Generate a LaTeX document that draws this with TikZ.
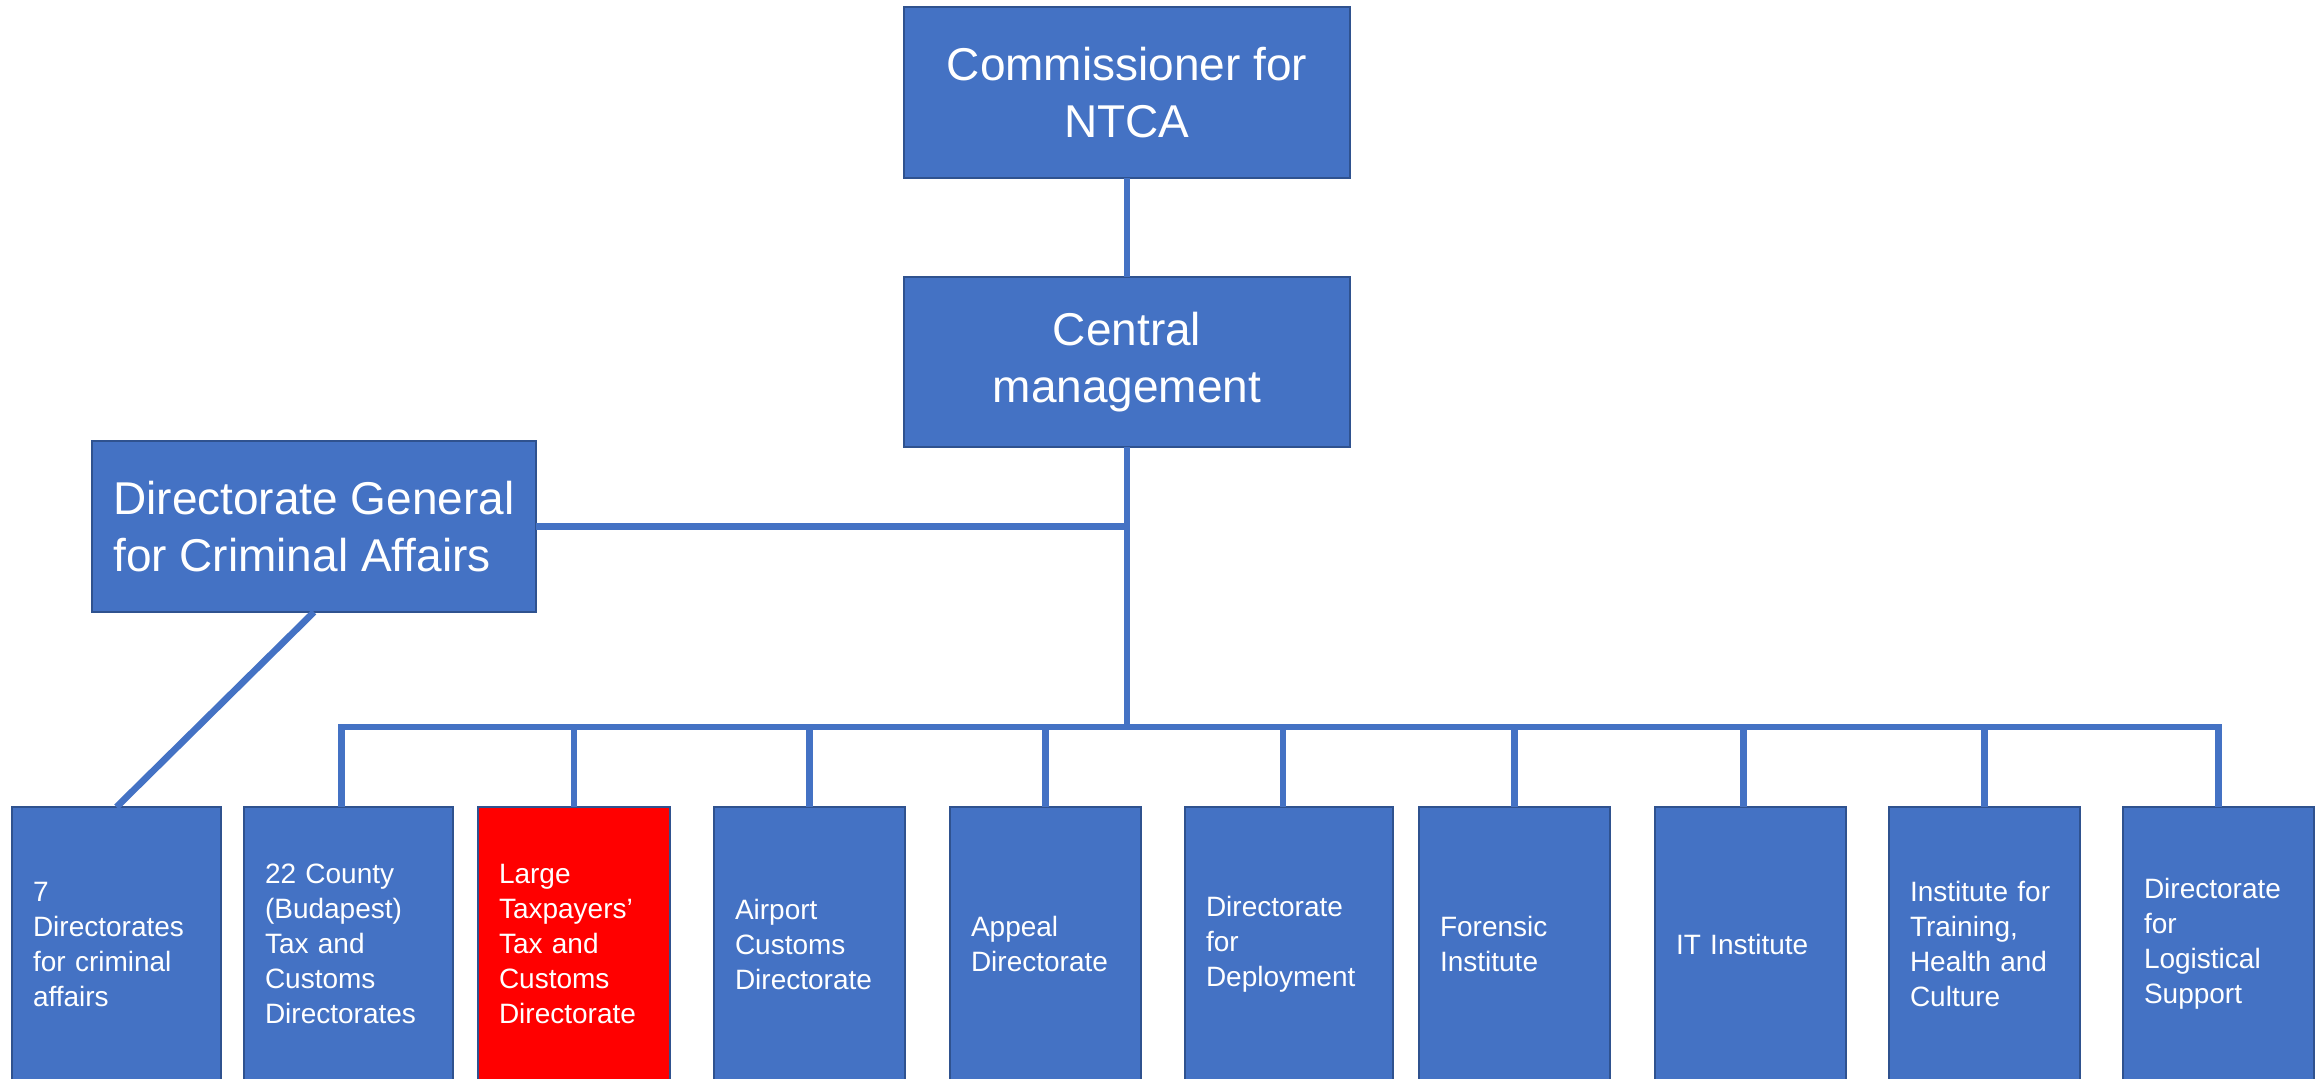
\documentclass[tikz,border=0pt]{standalone}
\usepackage{fontspec}
\setmainfont{Liberation Sans}
\definecolor{boxblue}{HTML}{4472C4}
\definecolor{edgeblue}{HTML}{2F528F}
\definecolor{boxred}{HTML}{FF0000}
\begin{document}
\begin{tikzpicture}[x=0.75pt,y=-0.75pt,
  unit/.style={draw=edgeblue, line width=1.5pt, fill=boxblue, text=white, inner sep=0pt, outer sep=0pt},
  bigbox/.style={unit, font=\fontsize{34.5}{42.75}\selectfont},
  smallbox/.style={unit, anchor=north, font=\fontsize{21}{26.25}\selectfont, align=left,
    inner xsep=15.75pt, minimum height=205.5pt},
  link/.style={draw=boxblue, line width=5pt}
]
\useasboundingbox (0,0) rectangle (2323,1078);

\node[bigbox, align=center, minimum width=334.5pt, minimum height=128.25pt] (comm) at (1127,92.5) {Commissioner for\\NTCA};
\node[bigbox, align=center, minimum width=334.5pt, minimum height=127.5pt] (central) at (1127,362) {Central\\management};
\node[bigbox, align=left, minimum width=333pt, minimum height=128.25pt] (dg) at (314,526.5) {Directorate General\\for Criminal Affairs};

\node[smallbox, minimum width=156.75pt, text width=125.25pt] (b1) at (116.5,807) {7\\Directorates\\for criminal\\affairs};
\node[smallbox, minimum width=156.75pt, text width=125.25pt] (b2) at (348.5,807) {22 County\\(Budapest)\\Tax and\\Customs\\Directorates};
\node[smallbox, fill=boxred, minimum width=144pt, text width=112.5pt] (b3) at (574,807) {Large\\Taxpayers’\\Tax and\\Customs\\Directorate};
\node[smallbox, minimum width=143.25pt, text width=111.75pt] (b4) at (809.5,807) {Airport\\Customs\\Directorate};
\node[smallbox, minimum width=143.25pt, text width=111.75pt] (b5) at (1045.5,807) {Appeal\\Directorate};
\node[smallbox, minimum width=156pt, text width=124.5pt] (b6) at (1289,807) {Directorate\\for\\Deployment};
\node[smallbox, minimum width=143.25pt, text width=111.75pt] (b7) at (1514.5,807) {Forensic\\Institute};
\node[smallbox, minimum width=143.25pt, text width=111.75pt] (b8) at (1750.5,807) {IT Institute};
\node[smallbox, minimum width=143.25pt, text width=111.75pt] (b9) at (1984.5,807) {Institute for\\Training,\\Health and\\Culture};
\node[smallbox, minimum width=143.25pt, text width=111.75pt] (b10) at (2218.5,807) {Directorate\\for\\Logistical\\Support};

\coordinate (busy) at (0,727);

\draw[link] (comm.south) -- (central.south |- comm.south) -- (central.north);
\draw[link] (central.south) -- (central.south |- busy);
\draw[link] (dg.east) -- (central.south |- dg.east);
\draw[link] (dg.south) -- (b1.north);
\draw[link, line join=miter] ([xshift=-5.25pt]b2.north) -- ([xshift=-5.25pt]b2.north |- busy) -- (b10.north |- busy) -- (b10.north);
\draw[link] (b3.north |- busy) -- (b3.north);
\draw[link] (b4.north |- busy) -- (b4.north);
\draw[link] (b5.north |- busy) -- (b5.north);
\draw[link] ([xshift=-4.5pt]b6.north |- busy) -- ([xshift=-4.5pt]b6.north);
\draw[link] (b7.north |- busy) -- (b7.north);
\draw[link] ([xshift=-5.25pt]b8.north |- busy) -- ([xshift=-5.25pt]b8.north);
\draw[link] (b9.north |- busy) -- (b9.north);
\end{tikzpicture}
\end{document}
